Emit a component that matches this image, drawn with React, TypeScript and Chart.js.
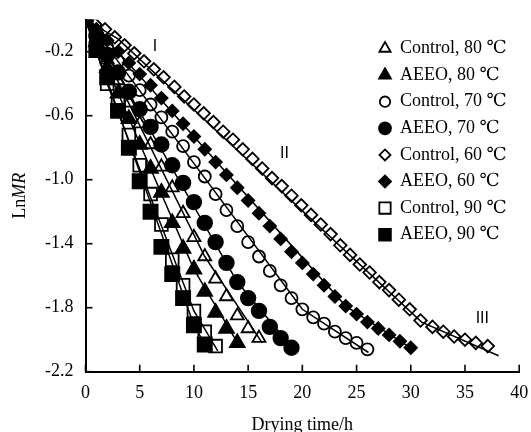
import React, { useEffect, useRef } from 'react';
import { Chart, registerables } from 'chart.js';

Chart.register(...registerables);

// ---------- data (LnMR vs drying time) ----------
const xTickValues = [0, 5, 10, 15, 20, 25, 30, 35, 40];
const yTickValues = [-2.2, -1.8, -1.4, -1.0, -0.6, -0.2];

// hourly series (value i is at t = i h)
const control80 = [0, -0.11, -0.25, -0.38, -0.52, -0.65, -0.78, -0.92, -1.05, -1.21, -1.36, -1.48, -1.62, -1.73, -1.85, -1.93, -1.99];
const aeeo80 = [0, -0.14, -0.30, -0.46, -0.62, -0.78, -0.93, -1.08, -1.27, -1.43, -1.56, -1.70, -1.83, -1.93, -2.02];
const control70 = [0, -0.08, -0.17, -0.26, -0.35, -0.44, -0.53, -0.61, -0.70, -0.79, -0.89, -0.98, -1.09, -1.19, -1.29, -1.39, -1.48, -1.57, -1.66, -1.74, -1.81, -1.86, -1.90, -1.95, -1.99, -2.02, -2.06];
const aeeo70 = [0, -0.10, -0.22, -0.33, -0.45, -0.56, -0.67, -0.78, -0.91, -1.02, -1.14, -1.27, -1.39, -1.52, -1.64, -1.74, -1.82, -1.92, -1.99, -2.05];
const aeeo60 = [0, -0.06, -0.13, -0.20, -0.27, -0.34, -0.41, -0.49, -0.57, -0.65, -0.73, -0.81, -0.89, -0.97, -1.05, -1.13, -1.21, -1.29, -1.37, -1.45, -1.52, -1.59, -1.66, -1.73, -1.79, -1.84, -1.89, -1.93, -1.97, -2.01, -2.05];
const control90 = [0, -0.17, -0.40, -0.52, -0.72, -0.91, -1.09, -1.28, -1.50, -1.66, -1.82, -1.95, -2.04];
const aeeo90 = [0, -0.19, -0.36, -0.57, -0.80, -1.01, -1.20, -1.42, -1.59, -1.74, -1.91, -2.03];

// Control, 60 °C was sampled more densely: explicit times (h)
const control60Times = [0, 0.9, 1.8, 2.7, 3.6, 4.5, 5.4, 6.3, 7.2, 8.2, 9.1, 10.0, 10.9, 11.8, 12.7, 13.6, 14.5, 15.4, 16.3, 17.2, 18.1, 19.0, 19.9, 20.8, 21.7, 22.6, 23.5, 24.4, 25.3, 26.2, 27.1, 28.0, 28.9, 29.9, 30.9, 32.0, 33.0, 34.0, 35.0, 36.0, 37.1];
const control60 = [0, -0.03, -0.06, -0.11, -0.16, -0.21, -0.26, -0.31, -0.36, -0.42, -0.48, -0.53, -0.585, -0.64, -0.70, -0.75, -0.81, -0.87, -0.93, -0.99, -1.04, -1.10, -1.16, -1.22, -1.28, -1.34, -1.41, -1.47, -1.53, -1.58, -1.64, -1.69, -1.75, -1.81, -1.88, -1.92, -1.95, -1.98, -2.00, -2.02, -2.04];

// fitted stage lines (knots: [time, LnMR])
const fitControl80 = [[0, 0], [2, -0.25], [11, -1.48], [16.3, -2.02]];
const fitAeeo80 = [[0, 0], [2, -0.30], [10, -1.56], [14.2, -2.04]];
const fitControl70 = [[0, 0], [2, -0.17], [20, -1.81], [26.1, -2.08]];
const fitAeeo70 = [[0, 0], [2, -0.22], [14, -1.64], [19.2, -2.06]];
const fitControl60 = [[0, 0], [3, -0.12], [31, -1.89], [38.1, -2.10]];
const fitAeeo60 = [[0, 0], [3, -0.20], [24, -1.79], [30.2, -2.06]];
const fitControl90 = [[0, 0], [2, -0.40], [10, -1.82], [12.2, -2.07]];
const fitAeeo90 = [[0, 0], [3, -0.57], [10, -1.91], [11.2, -2.05]];

const seriesLabels = ['Control, 80 ℃', 'AEEO, 80 ℃', 'Control, 70 ℃', 'AEEO, 70 ℃', 'Control, 60 ℃', 'AEEO, 60 ℃', 'Control, 90 ℃', 'AEEO, 90 ℃'];

const stageNames = ['I', 'II', 'III'];
const stageX = [6.4, 18.35, 36.6];
const stageY = [-0.17, -0.835, -1.87];

// ---------- styles ----------
const SERIF = '"Liberation Serif", "Times New Roman", "DejaVu Serif", "Noto Sans CJK SC", serif';
const FS = 18;

type MarkerStyle = { shape: 'triangle' | 'circle' | 'rectRot' | 'rect'; filled: boolean; r: number; lr: number };
const markerStyles: MarkerStyle[] = [
  { shape: 'triangle', filled: false, r: 7.5, lr: 6.5 },
  { shape: 'triangle', filled: true, r: 8.5, lr: 6.8 },
  { shape: 'circle', filled: false, r: 6, lr: 5.2 },
  { shape: 'circle', filled: true, r: 7.3, lr: 6 },
  { shape: 'rectRot', filled: false, r: 6.3, lr: 5.5 },
  { shape: 'rectRot', filled: true, r: 6.2, lr: 6 },
  { shape: 'rect', filled: false, r: 9, lr: 8 },
  { shape: 'rect', filled: true, r: 10, lr: 8.3 },
];

const seriesData = [control80, aeeo80, control70, aeeo70, control60, aeeo60, control90, aeeo90];
const seriesTimes: (number[] | null)[] = [null, null, null, null, control60Times, null, null, null];
const fitData = [fitControl80, fitAeeo80, fitControl70, fitAeeo70, fitControl60, fitAeeo60, fitControl90, fitAeeo90];

function drawMarker(ctx: CanvasRenderingContext2D, m: MarkerStyle, x: number, y: number, r: number) {
  ctx.beginPath();
  if (m.shape === 'circle') {
    ctx.arc(x, y, r, 0, Math.PI * 2);
  } else if (m.shape === 'triangle') {
    const a = (Math.PI * 2) / 3;
    ctx.moveTo(x, y - r);
    ctx.lineTo(x + Math.sin(a) * r, y - Math.cos(a) * r);
    ctx.lineTo(x + Math.sin(2 * a) * r, y - Math.cos(2 * a) * r);
    ctx.closePath();
  } else if (m.shape === 'rectRot') {
    ctx.moveTo(x - r, y);
    ctx.lineTo(x, y - r);
    ctx.lineTo(x + r, y);
    ctx.lineTo(x, y + r);
    ctx.closePath();
  } else {
    const s = r * Math.SQRT1_2;
    ctx.rect(x - s, y - s, 2 * s, 2 * s);
  }
  ctx.lineWidth = 1.8;
  ctx.strokeStyle = '#000';
  if (m.filled) {
    ctx.fillStyle = '#000';
    ctx.fill();
  }
  ctx.stroke();
}

const decorPlugin = {
  id: 'decor',
  beforeDatasetsDraw(chart: any) {
    const ctx: CanvasRenderingContext2D = chart.ctx;
    const xs = chart.scales.x;
    const ys = chart.scales.y;
    const area = chart.chartArea;
    ctx.save();
    ctx.strokeStyle = '#000';
    ctx.lineWidth = 1.6;
    // inward tick marks
    xTickValues.forEach((v) => {
      const px = xs.getPixelForValue(v);
      ctx.beginPath();
      ctx.moveTo(px, area.bottom);
      ctx.lineTo(px, area.bottom - 7);
      ctx.stroke();
    });
    yTickValues.forEach((v) => {
      const py = ys.getPixelForValue(v);
      ctx.beginPath();
      ctx.moveTo(area.left, py);
      ctx.lineTo(area.left + 7, py);
      ctx.stroke();
    });
    ctx.restore();
  },
  afterDraw(chart: any) {
    const ctx: CanvasRenderingContext2D = chart.ctx;
    const xs = chart.scales.x;
    const ys = chart.scales.y;
    const area = chart.chartArea;
    ctx.save();
    // stage labels
    ctx.fillStyle = '#000';
    ctx.font = '16px "Liberation Sans", "DejaVu Sans", sans-serif';
    ctx.textAlign = 'center';
    ctx.textBaseline = 'middle';
    stageNames.forEach((s, i) => {
      ctx.fillText(s, xs.getPixelForValue(stageX[i]), ys.getPixelForValue(stageY[i]));
    });

    // legend
    const legX = 385;
    const legTextX = 400;
    const legY0 = 48.5;
    const legStep = 26.6;
    ctx.font = FS + 'px ' + SERIF;
    ctx.textAlign = 'left';
    seriesLabels.forEach((label, i) => {
      const y = legY0 + i * legStep;
      drawMarker(ctx, markerStyles[i], legX, y, markerStyles[i].lr);
      ctx.fillStyle = '#000';
      ctx.fillText(label, legTextX, y);
    });

    // y-axis title: Ln + italic MR
    const cy = (area.top + area.bottom) / 2;
    ctx.translate(20, cy);
    ctx.rotate(-Math.PI / 2);
    ctx.textBaseline = 'middle';
    ctx.font = FS + 'px ' + SERIF;
    const w1 = ctx.measureText('Ln').width;
    ctx.font = 'italic ' + FS + 'px ' + SERIF;
    const w2 = ctx.measureText('MR').width;
    const start = -(w1 + w2) / 2;
    ctx.font = FS + 'px ' + SERIF;
    ctx.fillText('Ln', start, 0);
    ctx.font = 'italic ' + FS + 'px ' + SERIF;
    ctx.fillText('MR', start + w1, 0);
    ctx.restore();
  },
};

export default function App() {
  const canvasRef = useRef<HTMLCanvasElement | null>(null);

  useEffect(() => {
    if (!canvasRef.current) return;
    const datasets: any[] = [];
    fitData.forEach((pts, i) => {
      datasets.push({
        label: 'fit ' + seriesLabels[i],
        data: pts.map((p) => ({ x: p[0], y: p[1] })),
        showLine: true,
        borderColor: '#000',
        borderWidth: 1.5,
        pointRadius: 0,
        fill: false,
        order: 0,
      });
    });
    seriesData.forEach((vals, i) => {
      const m = markerStyles[i];
      const times = seriesTimes[i];
      datasets.push({
        label: seriesLabels[i],
        data: vals.map((v, k) => ({ x: times ? times[k] : k, y: v })),
        showLine: false,
        pointStyle: m.shape,
        pointRadius: m.r,
        pointBorderWidth: 1.8,
        pointBorderColor: '#000',
        pointBackgroundColor: m.filled ? '#000' : 'rgba(0,0,0,0)',
        order: 8 - i,
      });
    });

    const tickFont = { family: SERIF, size: FS };
    const chart = new Chart(canvasRef.current, {
      type: 'scatter',
      data: { datasets },
      options: {
        animation: false,
        responsive: false,
        devicePixelRatio: 1,
        layout: { padding: { top: 19.7, right: 3.5, left: 0, bottom: 0 } },
        plugins: { legend: { display: false }, tooltip: { enabled: false } },
        scales: {
          x: {
            type: 'linear',
            min: 0,
            max: 40,
            grid: { display: false, drawTicks: false },
            border: { display: true, color: '#000', width: 2 },
            ticks: { stepSize: 5, padding: 11, color: '#000', font: tickFont, maxRotation: 0 },
            title: { display: true, text: 'Drying time/h', color: '#000', font: tickFont, padding: { top: 0, bottom: -3.7 } },
            afterFit: (s: any) => { s.height = 60.3; s.paddingRight = 0; s.paddingLeft = 0; },
          },
          y: {
            type: 'linear',
            min: -2.2,
            max: 0,
            grid: { display: false, drawTicks: false },
            border: { display: true, color: '#000', width: 2 },
            ticks: {
              padding: 12,
              color: '#000',
              font: tickFont,
              callback: (v: any) => Number(v).toFixed(1),
            },
            afterBuildTicks: (s: any) => { s.ticks = yTickValues.map((v) => ({ value: v })); },
            afterFit: (s: any) => { s.width = 85.5; s.paddingTop = 0; s.paddingBottom = 0; },
          },
        },
      } as any,
      plugins: [decorPlugin],
    });
    return () => chart.destroy();
  }, []);

  return (
    <div style={{ position: 'absolute', left: 0, top: 0, width: 531, height: 432, background: '#fff' }}>
      <canvas ref={canvasRef} width={531} height={432} style={{ width: 531, height: 432, display: 'block' }} />
    </div>
  );
}
